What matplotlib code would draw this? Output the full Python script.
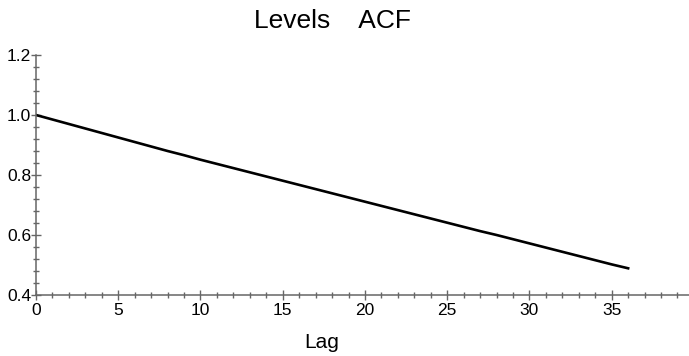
"""
Levels ACF plot.
"""

import numpy as np
import matplotlib.pyplot as plt
from matplotlib.ticker import MultipleLocator

plt.rcParams["font.family"] = ["Liberation Sans", "DejaVu Sans"]

LAGS = list(range(0, 37))
ACF = [
    1.000, 0.985, 0.970, 0.955, 0.940, 0.925, 0.910, 0.895, 0.880, 0.866,
    0.851, 0.837, 0.823, 0.809, 0.795, 0.781, 0.767, 0.753, 0.739, 0.725,
    0.711, 0.697, 0.683, 0.669, 0.655, 0.641, 0.627, 0.613, 0.600, 0.586,
    0.572, 0.558, 0.544, 0.530, 0.516, 0.502, 0.489,
]
TITLE = "Levels    ACF"
XLABEL = "Lag"

AXIS_GREY = "#666666"


def main():
    fig = plt.figure(figsize=(6.89, 3.56), dpi=100)
    ax = fig.add_axes([36 / 689, 1 - 295 / 356, 1 - 36 / 689, (295 - 55) / 356])

    ax.plot(LAGS, ACF, color="black", lw=1.9)

    ax.set_xlim(0, 39.7)
    ax.set_ylim(0.4, 1.2)

    for side in ("top", "right"):
        ax.spines[side].set_visible(False)
    for side in ("left", "bottom"):
        ax.spines[side].set_color(AXIS_GREY)
        ax.spines[side].set_linewidth(1.1)

    ax.xaxis.set_major_locator(MultipleLocator(5))
    ax.xaxis.set_minor_locator(MultipleLocator(1))
    ax.yaxis.set_major_locator(MultipleLocator(0.2))
    ax.yaxis.set_minor_locator(MultipleLocator(0.04))
    ax.yaxis.set_major_formatter(plt.FuncFormatter(lambda v, p: f"{v:.1f}"))

    ax.tick_params(which="major", direction="inout", length=7, width=1.0,
                   color=AXIS_GREY, labelsize=12.5, labelcolor="black")
    ax.tick_params(which="minor", direction="inout", length=4.5, width=1.0,
                   color=AXIS_GREY)
    ax.tick_params(axis="x", which="major", pad=2)
    ax.tick_params(axis="y", which="major", pad=0)

    fig.text(332 / 689, 1 - 21 / 356, TITLE, ha="center", va="center", fontsize=19)
    fig.text(322 / 689, 1 - 343 / 356, XLABEL, ha="center", va="center", fontsize=15)

    fig.savefig("out.png", dpi=100)


if __name__ == "__main__":
    main()
